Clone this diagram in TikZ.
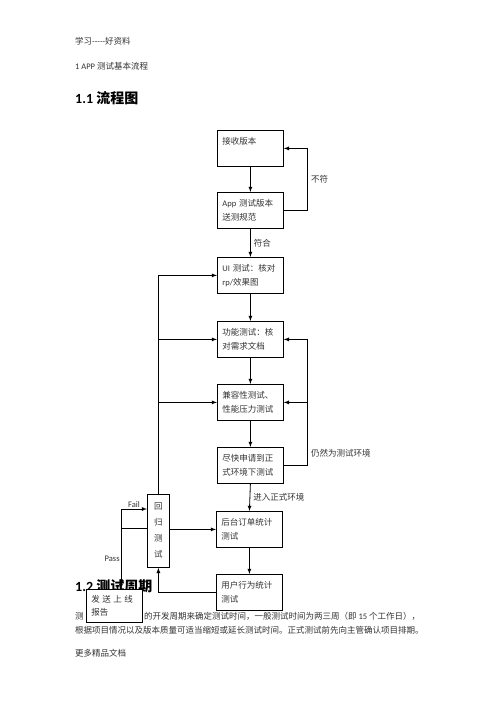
\documentclass[tikz,border=0pt]{standalone}
\usepackage{fontspec}
\setmainfont{Noto Sans CJK SC}
\newfontfamily\lat{Carlito}

\tikzset{
  etape/.style={draw, line width=0.8pt, anchor=north west, minimum width=66pt,
    minimum height=36pt, text width=56pt, inner sep=5pt, align=left,
    font=\fontsize{8.5}{14}\selectfont, text=black!80},
  lien/.style={-latex, line width=0.8pt},
  texte/.style={anchor=west, inner sep=0pt, font=\fontsize{8.5}{10}\selectfont, text=black!80},
  titre/.style={anchor=west, inner sep=0pt, font=\fontsize{14}{16}\selectfont\bfseries},
  etiquette/.style={font=\fontsize{8.5}{10}\selectfont, text=black!80, inner sep=3pt},
}

\begin{document}
\begin{tikzpicture}[x=1pt,y=-1pt]
\useasboundingbox[fill=white] (0,0) rectangle (496,702);

% En-tete
\node[texte] (entete) at (75,41) {学习{\lat -----}好资料};
\node[texte] (chapitre) at (75,66) {{\lat 1 APP} 测试基本流程};
\node[titre] (titre1) at (75,98) {{\lat 1.1} 流程图};

% Etapes
\node[etape] (reception) at (217,130) {接收版本\\\mbox{}};
\node[etape] (norme) at (217,192) {{\lat App} 测试版本\\送测规范};
\node[etape] (ui) at (217,257) {{\lat UI} 测试：核对\\{\lat rp/}效果图};
\node[etape] (fonc) at (217,321) {功能测试：核\\对需求文档};
\node[etape] (compat) at (217,384) {兼容性测试、\\性能压力测试};
\node[etape] (prod) at (217,447) {尽快申请到正\\式环境下测试};
\node[etape] (backend) at (216,511) {后台订单统计\\测试};
\node[etape] (usage) at (216,574) {用户行为统计\\测试};
\node[etape, minimum width=22pt, minimum height=73pt, text width=12pt,
  inner sep=5pt, align=center, font=\fontsize{8.5}{16}\selectfont]
  (regression) at (147,494) {回\\归\\测\\试};

% Chaine principale
\draw[lien] (reception.south) -- (norme.north);
\draw[lien] (norme.east) -- ++(24,0) |- (reception.east)
  node[pos=0.25, right, etiquette] {不符};
\draw[lien] (norme.south) -- (ui.north) node[midway, right, etiquette] {符合};
\draw[lien] (ui.south) -- (fonc.north);
\draw[lien] (fonc.south) -- (compat.north);
\draw[lien] (compat.south) -- (prod.north);
\draw[lien] (prod.east) -- ++(24,0) coordinate (retour) |- (fonc.east)
  node[pos=0.05, right, etiquette] {仍然为测试环境};
\draw[lien] (retour |- compat.east) -- (compat.east);
\draw[lien] (prod.south) -- (backend.north) node[midway, right, etiquette] {进入正式环境};
\draw[lien] (backend.south) -- (usage.north);

% Regression
\draw[lien] (usage.west) -| (regression.south);
\draw[lien] (regression.east |- backend.west) -- (backend.west);
\draw[lien] (regression.north) |- (ui.west);
\draw[lien] (regression.north |- fonc.west) -- (fonc.west);
\draw[lien] (regression.north |- compat.west) -- (compat.west);

% Section 1.2
\node[titre] (titre2) at (75,586) {{\lat 1.2} 测试周期};
\node[texte] (ligne1a) at (75,616) {测};
\node[texte] (ligne1b) at (144,616) {的开发周期来确定测试时间，一般测试时间为两三周（即 {\lat 15} 个工作日），};
\node[texte] (ligne2) at (75,630) {根据项目情况以及版本质量可适当缩短或延长测试时间。正式测试前先向主管确认项目排期。};
\node[texte] (pied) at (75,653) {更多精品文档};

% Fail / Pass
\coordinate (bifurc) at (121,528);
\coordinate (echec) at (121,509);
\node[etape, fill=white, minimum width=56pt, minimum height=33pt, text width=46pt]
  (release) at (86,589) {发\hspace{2.5pt}送\hspace{2.5pt}上\hspace{2.5pt}线\\[-1pt]报告};
\draw[line width=0.8pt] (regression.west |- bifurc) -- (bifurc) -- (echec);
\draw[lien] (echec) -- (echec -| regression.west)
  node[midway, above, etiquette, inner sep=1pt] {\lat Fail};
\draw[lien] (bifurc) -- (bifurc |- release.north)
  node[midway, left, etiquette, inner sep=1pt] {\lat Pass};

\end{tikzpicture}
\end{document}
